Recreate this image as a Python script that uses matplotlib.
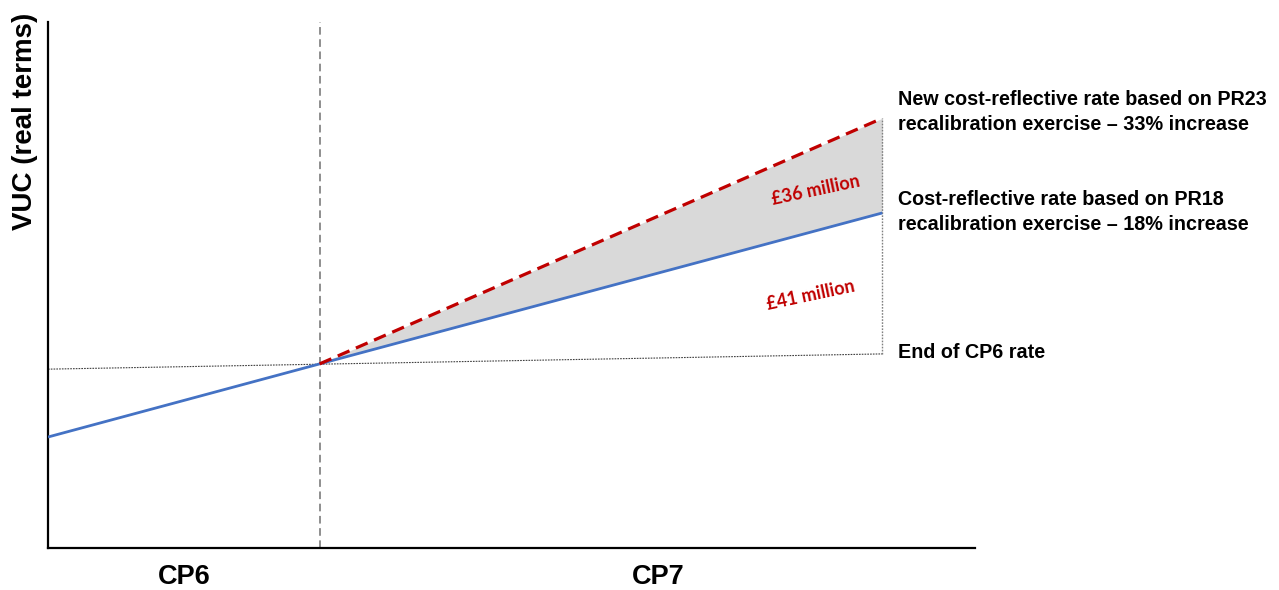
import matplotlib
matplotlib.use("Agg")
import matplotlib.pyplot as plt

# Data (abstract units: x time, y VUC index)
x_blue = [0.0, 2.93, 9.0]
blue_vals = [21.1, 35.0, 63.7]
x_red = [2.93, 9.0]
red_vals = [35.0, 81.7]
x_cp6 = [0.0, 9.0]
cp6_vals = [34.0, 36.9]
period_split = 2.93
period_labels = ["CP6", "CP7"]
period_label_x = [1.47, 6.58]
gap_labels = ["£36 million", "£41 million"]
series_labels = [
    "New cost-reflective rate based on PR23\nrecalibration exercise – 33% increase",
    "Cost-reflective rate based on PR18\nrecalibration exercise – 18% increase",
    "End of CP6 rate",
]

fig = plt.figure(figsize=(12.79, 5.90), dpi=100)
ax = fig.add_axes([48/1279, 42/590, 927/1279, 526/590])
ax.set_xlim(0, 10)
ax.set_ylim(0, 100)

# fill between red and blue in CP7
blue_cp7 = blue_vals[1:]
ax.fill_between(x_red, blue_cp7, red_vals, color="#D9D9D9", lw=0, zorder=1)

# end of CP6 rate (thin dotted)
ax.plot(x_cp6, cp6_vals, color="#404040", lw=0.8, ls=(0, (1.5, 1.0)), zorder=2)
# vertical dotted at end
ax.plot([x_red[-1], x_red[-1]], [cp6_vals[-1], red_vals[-1]], color="#808080",
        lw=1.0, ls=(0, (1.2, 1.0)), zorder=2)
# vertical split
ax.axvline(period_split, color="#707070", lw=1.1, ls=(0, (5, 3)), zorder=2)

ax.plot(x_blue, blue_vals, color="#4472C4", lw=2.0, zorder=3, solid_capstyle="butt")
ax.plot(x_red, red_vals, color="#C00000", lw=2.3, ls=(0, (4, 2.2)), zorder=4)

for s in ["top", "right"]:
    ax.spines[s].set_visible(False)
for s in ["left", "bottom"]:
    ax.spines[s].set_linewidth(1.6)
    ax.spines[s].set_color("black")
ax.set_xticks([])
ax.set_yticks([])

# right labels
rfont = dict(family="Liberation Sans", weight="bold", fontsize=14.2, color="black")
ax.text(9.165, 82.9, series_labels[0], ha="left", va="center", linespacing=1.39,
        clip_on=False, **rfont)
ax.text(9.165, 63.9, series_labels[1], ha="left", va="center", linespacing=1.39,
        clip_on=False, **rfont)
ax.text(9.165, 37.1, series_labels[2], ha="left", va="center", clip_on=False, **rfont)

# gap labels
gfont = dict(family="Lato", weight="bold", fontsize=13, color="#C00000")
ax.text(8.28, 68.1, gap_labels[0], ha="center", va="center", rotation=12, **gfont)
ax.text(8.23, 48.1, gap_labels[1], ha="center", va="center", rotation=12, **gfont)

# period labels
for xl, lab in zip(period_label_x, period_labels):
    ax.text(xl, -6.85, lab, ha="center", va="baseline", family="Liberation Sans",
            weight="bold", fontsize=19.5, clip_on=False)

fig.text(25/1279, 1 - 121/590, "VUC (real terms)", rotation=90, ha="center", va="center",
         family="Liberation Sans", weight="bold", fontsize=20)

fig.savefig("out.png", dpi=100)
